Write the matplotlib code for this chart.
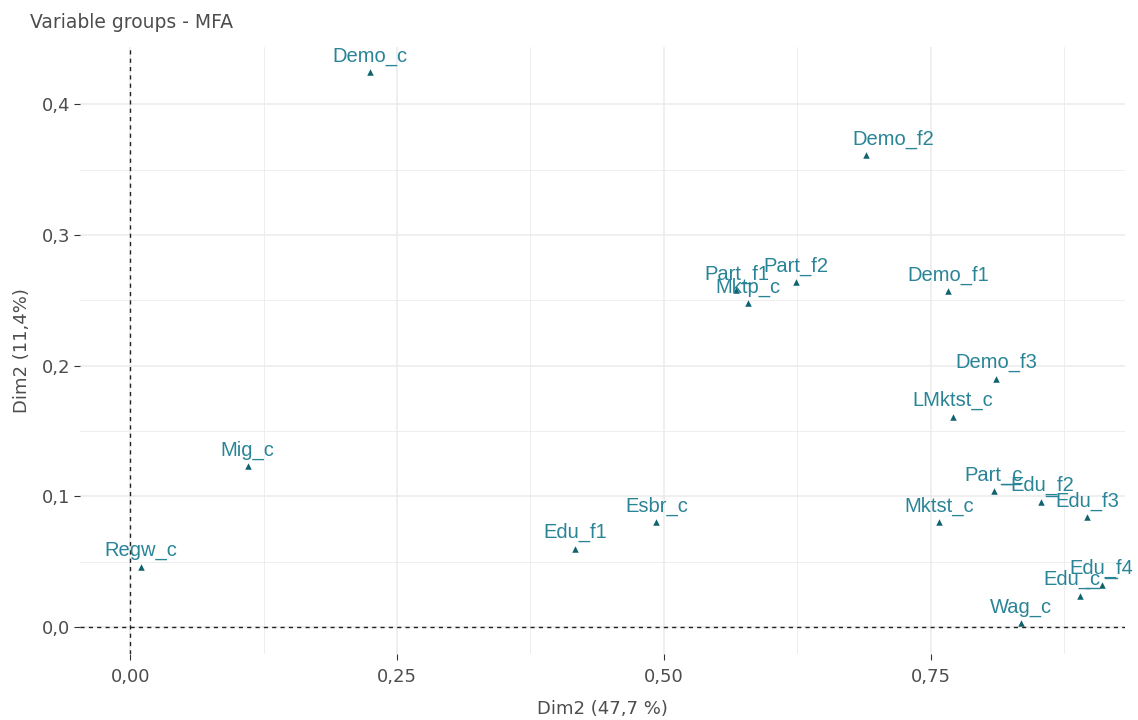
import matplotlib
matplotlib.use('Agg')
import matplotlib.pyplot as plt
import matplotlib.ticker as mticker

# groups and their coordinates on the two dimensions
groups = ['Demo_c', 'Demo_f2', 'Part_f1', 'Mktp_c', 'Part_f2', 'Demo_f1', 'Demo_f3',
          'LMktst_c', 'Part_c', 'Edu_f2', 'Edu_f3', 'Mktst_c', 'Edu_f4', 'Edu_c',
          'Wag_c', 'Esbr_c', 'Edu_f1', 'Mig_c', 'Regw_c']
dim1 = [0.225, 0.689, 0.568, 0.579, 0.624, 0.766, 0.811,
        0.771, 0.809, 0.853, 0.896, 0.758, 0.910, 0.890,
        0.835, 0.493, 0.417, 0.110, 0.010]
dim2 = [0.4245, 0.361, 0.258, 0.248, 0.264, 0.257, 0.190,
        0.161, 0.104, 0.096, 0.084, 0.080, 0.032, 0.024,
        0.003, 0.080, 0.060, 0.123, 0.046]

x_ticks = [0.0, 0.25, 0.50, 0.75]
y_ticks = [0.0, 0.1, 0.2, 0.3, 0.4]

# label offsets in pixels (repel-style placement)
offsets = {'Demo_f2': (28, 16), 'Edu_f2': (2, 16), 'Edu_f3': (1, 16),
           'Edu_f4': (0, 17), 'Edu_c': (-8, 16)}
# little leader segments, in pixel offsets from the point
segments = {'Edu_f2': [(-39, 18), (-21, 18)], 'Edu_f3': [(-41, 21), (-30, 21)],
            'Edu_f4': [(3, 7), (15, 7)], 'Edu_c': [(6, 8), (19, 8)]}

mark_col = '#10626e'
text_col = '#2a8497'
axis_col = '#4d4d4d'
grid_col = '#ebebeb'
font = 'DejaVu Sans'

fig = plt.figure(figsize=(11.38, 7.2), dpi=100)
ax = fig.add_axes([80 / 1138, 66 / 720, 1045 / 1138, 607 / 720])
ax.set_xlim(-0.047, 0.932)
ax.set_ylim(-0.0207, 0.444)

for s in ax.spines.values():
    s.set_visible(False)

ax.set_xticks(x_ticks)
ax.set_yticks(y_ticks)
ax.xaxis.set_minor_locator(mticker.FixedLocator([0.125, 0.375, 0.625, 0.875]))
ax.yaxis.set_minor_locator(mticker.FixedLocator([0.05, 0.15, 0.25, 0.35]))
ax.xaxis.set_major_formatter(mticker.FuncFormatter(lambda v, p: f'{v:.2f}'.replace('.', ',')))
ax.yaxis.set_major_formatter(mticker.FuncFormatter(lambda v, p: f'{v:.1f}'.replace('.', ',')))
ax.grid(True, which='major', color=grid_col, linewidth=1.1)
ax.grid(True, which='minor', color=grid_col, linewidth=0.6)
ax.set_axisbelow(True)
ax.tick_params(which='major', length=4, width=0.8, color='#333333', labelcolor=axis_col,
               labelsize=13, pad=3)
ax.tick_params(axis='x', which='major', pad=6)
ax.tick_params(which='minor', length=0)
for lbl in ax.get_xticklabels() + ax.get_yticklabels():
    lbl.set_family(font)

ax.axhline(0, color='#222222', linestyle=(0, (3, 3)), linewidth=1.0, zorder=1)
ax.axvline(0, color='#222222', linestyle=(0, (3, 3)), linewidth=1.0, zorder=1)

ax.scatter(dim1, dim2, marker='^', s=22, color=mark_col, zorder=3, linewidths=0)

inv = ax.transData.inverted()
for name, x, y in zip(groups, dim1, dim2):
    dx, dy = offsets.get(name, (0, 16))
    ax.annotate(name, (x, y), xytext=(dx, dy), textcoords='offset pixels',
                ha='center', va='center', fontsize=14.5, color=text_col,
                family='Liberation Sans', zorder=4)
    if name in segments:
        (x0, y0), (x1, y1) = segments[name]
        p0 = ax.transData.transform((x, y))
        a = inv.transform((p0[0] + x0, p0[1] + y0))
        b = inv.transform((p0[0] + x1, p0[1] + y1))
        ax.plot([a[0], b[0]], [a[1], b[1]], color=text_col, linewidth=1.0, zorder=4)

ax.set_xlabel('Dim2 (47,7 %)', fontsize=13, color=axis_col, family=font, labelpad=10)
ax.set_ylabel('Dim2 (11,4%)', fontsize=13, color=axis_col, family=font, labelpad=8)
fig.text(30 / 1138, 1 - 22 / 720, 'Variable groups - MFA', fontsize=13.5, color=axis_col,
         family=font, ha='left', va='center')

fig.savefig('out.png', dpi=100, facecolor='white')
